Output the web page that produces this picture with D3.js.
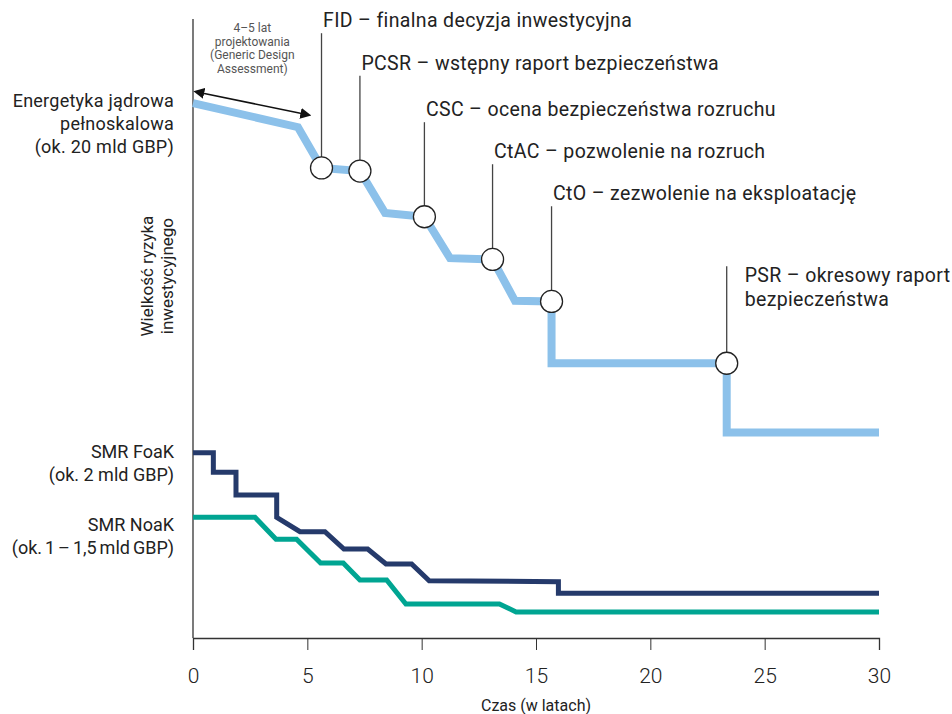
<!DOCTYPE html>
<html><head><meta charset="utf-8">
<script src="https://cdn.jsdelivr.net/npm/d3@7/dist/d3.min.js"></script>
<style>
body{margin:0;background:#fff;}
text{font-family:Roboto, "Noto Sans", sans-serif;fill:#222;}
</style></head>
<body><svg id="c" width="952" height="714"></svg>
<script>
// ---- data ----
const xTicks = [0, 5, 10, 15, 20, 25, 30];
const xTitle = "Czas (w latach)";
const yTitle = ["Wielkość ryzyka", "inwestycyjnego"];

const largeX = [0, 4.59, 5.62, 7.30, 8.40, 10.12, 11.24, 13.10, 14.08, 15.68, 15.68, 23.34, 23.34, 30];
const largeY = [86.4, 82.5, 75.9, 75.4, 68.6, 68.0, 61.3, 61.1, 54.4, 54.3, 44.3, 44.3, 33.1, 33.1];

const foakX = [0, 0.89, 0.89, 1.88, 1.88, 3.66, 3.66, 4.68, 5.77, 6.60, 7.64, 8.44, 9.56, 10.33, 15.98, 15.98, 30];
const foakY = [29.8, 29.8, 26.65, 26.65, 22.98, 22.98, 19.37, 17.04, 17.04, 14.24, 14.24, 11.81, 11.81, 9.1, 8.95, 7.07, 7.07];

const noakX = [0, 2.71, 3.63, 4.53, 5.58, 6.57, 7.30, 8.47, 9.31, 13.40, 14.13, 30];
const noakY = [19.37, 19.37, 15.81, 15.81, 11.97, 11.97, 9.22, 9.22, 5.34, 5.34, 4.05, 4.05];

const seriesLabels = [
  ["Energetyka jądrowa", "pełnoskalowa", "(ok. 20 mld GBP)"],
  ["SMR FoaK", "(ok. 2 mld GBP)"],
  ["SMR NoaK", "(ok. 1 – 1,5 mld GBP)"]
];

const milestoneNames = [
  ["FID – finalna decyzja inwestycyjna"],
  ["PCSR – wstępny raport bezpieczeństwa"],
  ["CSC – ocena bezpieczeństwa rozruchu"],
  ["CtAC – pozwolenie na rozruch"],
  ["CtO – zezwolenie na eksploatację"],
  ["PSR – okresowy raport", "bezpieczeństwa"]
];
const milestoneX = [5.62, 7.30, 10.12, 13.10, 15.68, 23.34];
const milestoneY = [75.9, 75.4, 68.0, 61.1, 54.3, 44.3];
const milestoneLabelY = [97.7, 90.8, 83.3, 76.5, 69.7, 60.0];

const gdaArrowX = [0.44, 4.75];
const gdaArrowY = [88.0, 84.7];
const gdaText = ["4–5 lat", "projektowania", "(Generic Design", "Assessment)"];

// ---- chart ----
const svg = d3.select("#c");
const x = d3.scaleLinear().domain([0, 30]).range([193, 879]);
const y = d3.scaleLinear().domain([0, 100]).range([637, 19]);

const colors = {large: "#8cc1ea", foak: "#253a6b", noak: "#00a592", ink: "#333"};

// markers
const defs = svg.append("defs");
["start", "end"].forEach(k => {
  defs.append("marker").attr("id", "ar-" + k)
    .attr("viewBox", "0 0 10 10").attr("refX", 1).attr("refY", 5)
    .attr("markerWidth", 11).attr("markerHeight", 11).attr("markerUnits", "userSpaceOnUse")
    .attr("orient", k === "start" ? "auto-start-reverse" : "auto")
    .append("path").attr("d", "M0,0 L10,5 L0,10 Z").attr("fill", "#111");
});

// axes
const xAxis = svg.append("g").attr("transform", `translate(0,${y(0) + 1})`)
  .call(d3.axisBottom(x).tickValues(xTicks).tickSize(12).tickPadding(18).tickFormat(d3.format("d")));
xAxis.select(".domain").attr("stroke", colors.ink).attr("stroke-width", 1.3);
xAxis.selectAll(".tick line").attr("stroke", colors.ink).attr("stroke-width", 1);
xAxis.selectAll(".tick text").style("font-size", "21px").style("font-weight", 300)
  .style("font-family", "Roboto").attr("fill", "#333");

const yAxis = svg.append("g").attr("transform", `translate(${x(0)},0)`)
  .call(d3.axisLeft(y).tickValues([]).tickSizeOuter(0));
yAxis.select(".domain").attr("stroke", colors.ink).attr("stroke-width", 1.3)
  .attr("d", `M0,${y(100)}V${y(0) + 1}`);

svg.append("text").attr("x", (x(0) + x(30)) / 2).attr("y", 711)
  .attr("text-anchor", "middle").style("font-size", "16px").text(xTitle);

const yt = svg.append("text").attr("transform", `translate(153,${y(58.4)}) rotate(-90)`)
  .attr("text-anchor", "middle").style("font-size", "17px");
yTitle.forEach((t, i) => yt.append("tspan").attr("x", 0).attr("dy", i ? 20 : 0).text(t));

// lines
const line = d3.line().x(d => x(d[0])).y(d => y(d[1]));
function drawSeries(xs, ys, color, w) {
  svg.append("path").datum(xs.map((v, i) => [v, ys[i]]))
    .attr("d", line).attr("fill", "none").attr("stroke", color)
    .attr("stroke-width", w).attr("stroke-linejoin", "miter").attr("stroke-linecap", "butt");
}
drawSeries(noakX, noakY, colors.noak, 5);
drawSeries(foakX, foakY, colors.foak, 5);
drawSeries(largeX, largeY, colors.large, 8);

// milestone leaders + circles + labels
milestoneX.forEach((mx, i) => {
  svg.append("line").attr("x1", x(mx)).attr("x2", x(mx))
    .attr("y1", y(milestoneLabelY[i])).attr("y2", y(milestoneY[i]))
    .attr("stroke", "#444").attr("stroke-width", 1.3);
});
milestoneX.forEach((mx, i) => {
  svg.append("circle").attr("cx", x(mx)).attr("cy", y(milestoneY[i])).attr("r", 11)
    .attr("fill", "#fff").attr("stroke", "#222").attr("stroke-width", 1.3);
});
milestoneNames.forEach((lines, i) => {
  const multi = lines.length > 1;
  const t = svg.append("text")
    .attr("y", y(milestoneLabelY[i]) + (multi ? 16 : -6))
    .style("font-size", "19.5px").style("letter-spacing", "0.35px");
  lines.forEach((s, j) => t.append("tspan").attr("x", x(milestoneX[i]) + (multi ? 18 : 1.5))
    .attr("dy", j ? 24 : 0).text(s));
});

// series labels on the left
const seriesLabelY = [largeY[0], foakY[0], noakY[0]];
const seriesLabelOffsets = [4, 5, 14];
seriesLabels.forEach((lines, i) => {
  const t = svg.append("text").attr("text-anchor", "end").style("font-size", "18px");
  const base = y(seriesLabelY[i]) + seriesLabelOffsets[i];
  lines.forEach((s, j) => t.append("tspan").attr("x", 174)
    .attr("y", base + j * 23)
    .style("word-spacing", s.includes("–") ? "-1.5px" : null)
    .style("letter-spacing", i === 0 ? "0.25px" : null)
    .text(s));
});

// GDA arrow + text
svg.append("line")
  .attr("x1", x(gdaArrowX[0])).attr("y1", y(gdaArrowY[0]))
  .attr("x2", x(gdaArrowX[1])).attr("y2", y(gdaArrowY[1]))
  .attr("stroke", "#111").attr("stroke-width", 1.6)
  .attr("marker-start", "url(#ar-start)").attr("marker-end", "url(#ar-end)");
const gx = (x(gdaArrowX[0]) + x(gdaArrowX[1])) / 2;
const gt = svg.append("text").attr("text-anchor", "middle").style("font-size", "12px")
  .style("fill", "#555");
gdaText.forEach((s, j) => gt.append("tspan").attr("x", gx).attr("y", 32 + j * 13.5).text(s));
</script></body></html>
